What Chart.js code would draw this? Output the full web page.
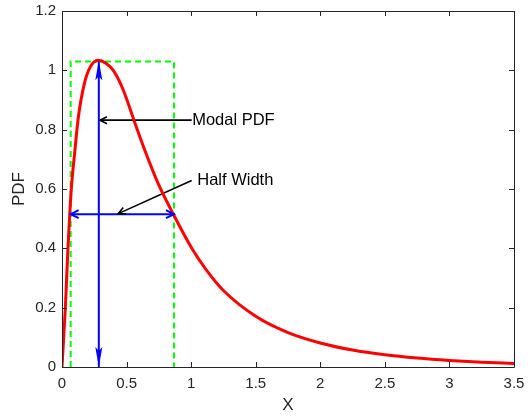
<!DOCTYPE html>
<html>
<head>
<meta charset="utf-8">
<script src="https://cdn.jsdelivr.net/npm/chart.js@4.4.1/dist/chart.umd.min.js"></script>
<style>
html, body { margin: 0; padding: 0; background: #fff; }
</style>
</head>
<body>
<canvas id="myChart" width="528" height="419"></canvas>
<script>
// PDF curve, values
var curveX = [0, 0.013, 0.026, 0.046, 0.06, 0.072, 0.1, 0.126, 0.173, 0.217, 0.28, 0.34, 0.4, 0.475, 0.557, 0.642, 0.745, 0.862, 1.0, 1.12, 1.25, 1.5, 1.75, 2.0, 2.25, 2.5, 2.75, 3.0, 3.25, 3.5];
var curveY = [0, 0.1, 0.2, 0.4, 0.515, 0.6, 0.73, 0.84, 0.955, 1.01, 1.034, 1.024, 0.998, 0.933, 0.832, 0.73, 0.618, 0.515, 0.404, 0.326, 0.258, 0.171, 0.116, 0.081, 0.057, 0.041, 0.030, 0.022, 0.016, 0.012];

// mode and half width markers
var modeX = 0.285;
var modeY = 1.034;
var halfY = 0.515;
var halfLeft = 0.067;
var halfRight = 0.867;
var boxTop = 1.03;

// annotation arrows [fromX, fromY, toX, toY]
var modalArrow = [1.004, 0.832, 0.294, 0.832];
var halfArrow = [1.004, 0.629, 0.436, 0.517];
var modalText = ["Modal PDF", 1.008, 0.832];
var halfText = ["Half Width", 1.047, 0.629];

var xTicks = [0, 0.5, 1, 1.5, 2, 2.5, 3, 3.5];
var yTicks = [0, 0.2, 0.4, 0.6, 0.8, 1, 1.2];

var axisColor = '#262626';
var fontName = '"Liberation Sans", Arial, Helvetica, sans-serif';

var curve = [];
for (var i = 0; i < curveX.length; i++) {
    curve.push({x: curveX[i], y: curveY[i]});
}

function lineData(arr) {
    return [{x: arr[0], y: arr[1]}, {x: arr[2], y: arr[3]}];
}

// arrow heads, text and the box ticks
var extrasPlugin = {
    id: 'extras',
    afterDatasetsDraw: function(chart) {
        var ctx = chart.ctx;
        var xs = chart.scales.x;
        var ys = chart.scales.y;
        var area = chart.chartArea;

        function px(x) { return xs.getPixelForValue(x); }
        function py(y) { return ys.getPixelForValue(y); }

        // filled narrow head
        function solidHead(x1, y1, x2, y2, color, len, half) {
            var a = Math.atan2(y2 - y1, x2 - x1);
            ctx.save();
            ctx.fillStyle = color;
            ctx.beginPath();
            ctx.moveTo(x2, y2);
            ctx.lineTo(x2 - len * Math.cos(a) + half * Math.sin(a), y2 - len * Math.sin(a) - half * Math.cos(a));
            ctx.lineTo(x2 - len * 0.8 * Math.cos(a), y2 - len * 0.8 * Math.sin(a));
            ctx.lineTo(x2 - len * Math.cos(a) - half * Math.sin(a), y2 - len * Math.sin(a) + half * Math.cos(a));
            ctx.closePath();
            ctx.fill();
            ctx.restore();
        }
        // open chevron head
        function openHead(x1, y1, x2, y2, color, len, half, w) {
            var a = Math.atan2(y2 - y1, x2 - x1);
            ctx.save();
            ctx.strokeStyle = color;
            ctx.lineWidth = w;
            ctx.beginPath();
            ctx.moveTo(x2 - len * Math.cos(a) + half * Math.sin(a), y2 - len * Math.sin(a) - half * Math.cos(a));
            ctx.lineTo(x2, y2);
            ctx.lineTo(x2 - len * Math.cos(a) - half * Math.sin(a), y2 - len * Math.sin(a) + half * Math.cos(a));
            ctx.stroke();
            ctx.restore();
        }

        // vertical mode arrow
        solidHead(px(modeX), py(0.5), px(modeX), py(modeY), '#0000ff', 20, 3.5);
        solidHead(px(modeX), py(0.5), px(modeX), py(0), '#0000ff', 20, 3.5);
        // horizontal half width arrow
        openHead(px(halfRight), py(halfY), px(halfLeft), py(halfY), '#0000ff', 8, 4, 2);
        openHead(px(halfLeft), py(halfY), px(halfRight), py(halfY), '#0000ff', 8, 4, 2);
        // black arrows
        openHead(px(modalArrow[0]), py(modalArrow[1]), px(modalArrow[2]), py(modalArrow[3]), '#000', 7, 3.5, 1.6);
        openHead(px(halfArrow[0]), py(halfArrow[1]), px(halfArrow[2]), py(halfArrow[3]), '#000', 7, 3.5, 1.6);

        ctx.save();
        ctx.fillStyle = '#000';
        ctx.font = '16.5px ' + fontName;
        ctx.textAlign = 'left';
        ctx.textBaseline = 'middle';
        ctx.fillText(modalText[0], px(modalText[1]), py(modalText[2]));
        ctx.fillText(halfText[0], px(halfText[1]), py(halfText[2]));
        ctx.restore();

        // box and inward ticks
        ctx.save();
        ctx.strokeStyle = axisColor;
        ctx.lineWidth = 1;
        ctx.beginPath();
        ctx.rect(Math.round(area.left) + 0.5, Math.round(area.top) + 0.5, Math.round(area.right - area.left), Math.round(area.bottom - area.top));
        for (var i = 0; i < xTicks.length; i++) {
            var tx = Math.round(px(xTicks[i])) + 0.5;
            ctx.moveTo(tx, area.bottom);
            ctx.lineTo(tx, area.bottom - 5);
            ctx.moveTo(tx, area.top);
            ctx.lineTo(tx, area.top + 5);
        }
        for (var j = 0; j < yTicks.length; j++) {
            var ty = Math.round(py(yTicks[j])) + 0.5;
            ctx.moveTo(area.left, ty);
            ctx.lineTo(area.left + 5, ty);
            ctx.moveTo(area.right, ty);
            ctx.lineTo(area.right - 5, ty);
        }
        ctx.stroke();
        ctx.restore();
    }
};

function tickText(value) {
    return String(Math.round(value * 10) / 10);
}

var ctx = document.getElementById('myChart').getContext('2d');
var myChart = new Chart(ctx, {
    type: 'line',
    data: {
        datasets: [{
            label: 'PDF',
            data: curve,
            borderColor: '#ff0000',
            borderWidth: 3,
            pointRadius: 0,
            cubicInterpolationMode: 'monotone',
            fill: false,
            order: 0
        }, {
            label: 'box',
            data: [{x: halfLeft, y: 0}, {x: halfLeft, y: boxTop}, {x: halfRight, y: boxTop}, {x: halfRight, y: 0}],
            borderColor: '#00ff00',
            borderWidth: 2,
            borderDash: [6, 4],
            pointRadius: 0,
            tension: 0,
            fill: false,
            order: 3
        }, {
            label: 'mode',
            data: [{x: modeX, y: 0}, {x: modeX, y: modeY}],
            borderColor: '#0000ff',
            borderWidth: 2,
            pointRadius: 0,
            fill: false,
            order: 2
        }, {
            label: 'half',
            data: [{x: halfLeft, y: halfY}, {x: halfRight, y: halfY}],
            borderColor: '#0000ff',
            borderWidth: 2,
            pointRadius: 0,
            fill: false,
            order: 2
        }, {
            label: 'modalArrow',
            data: lineData(modalArrow),
            borderColor: '#000000',
            borderWidth: 1.6,
            pointRadius: 0,
            fill: false,
            order: 1
        }, {
            label: 'halfArrow',
            data: lineData(halfArrow),
            borderColor: '#000000',
            borderWidth: 1.6,
            pointRadius: 0,
            fill: false,
            order: 1
        }]
    },
    options: {
        responsive: false,
        animation: false,
        layout: { padding: { left: 0, top: 11, right: 14, bottom: 0 } },
        plugins: {
            legend: { display: false },
            tooltip: { enabled: false }
        },
        scales: {
            x: {
                type: 'linear',
                min: 0,
                max: 3.5,
                afterFit: function(scale) {
                    scale.height = 52;
                    scale.paddingLeft = 0;
                    scale.paddingRight = 0;
                },
                afterBuildTicks: function(scale) {
                    scale.ticks = xTicks.map(function(v) { return {value: v}; });
                },
                grid: { display: false, drawTicks: false },
                border: { display: false },
                ticks: {
                    color: axisColor,
                    padding: 8,
                    maxRotation: 0,
                    callback: tickText,
                    font: { family: fontName, size: 15 }
                },
                title: {
                    display: true,
                    text: 'X',
                    color: axisColor,
                    padding: { top: 0, bottom: 3 },
                    font: { family: fontName, size: 17 }
                }
            },
            y: {
                type: 'linear',
                min: 0,
                max: 1.2,
                afterFit: function(scale) {
                    scale.width = 62;
                    scale.paddingTop = 0;
                    scale.paddingBottom = 0;
                },
                afterBuildTicks: function(scale) {
                    scale.ticks = yTicks.map(function(v) { return {value: v}; });
                },
                grid: { display: false, drawTicks: false },
                border: { display: false },
                ticks: {
                    color: axisColor,
                    padding: 6,
                    callback: tickText,
                    font: { family: fontName, size: 15 }
                },
                title: {
                    display: true,
                    text: 'PDF',
                    color: axisColor,
                    padding: { top: 9, bottom: 0 },
                    font: { family: fontName, size: 17 }
                }
            }
        }
    },
    plugins: [extrasPlugin]
});
</script>
</body>
</html>
